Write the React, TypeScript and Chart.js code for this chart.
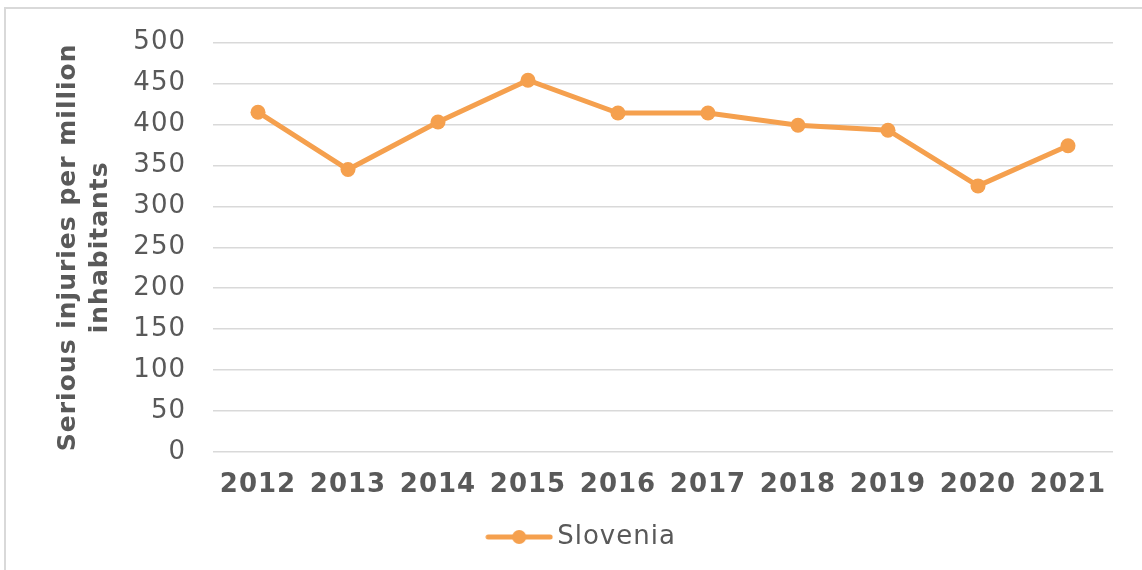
import React, { useEffect, useRef } from "react";
import { Chart, registerables } from "chart.js";

Chart.register(...registerables);

const years = ["2012", "2013", "2014", "2015", "2016", "2017", "2018", "2019", "2020", "2021"];
const slovenia = [415, 345, 403, 454, 414, 414, 399, 393, 325, 374];
const seriesName = "Slovenia";
const yTitle = ["Serious injuries per million", "inhabitants"];
const yMin = 0;
const yMax = 500;
const yStep = 50;

const ORANGE = "#F5A04E";
const TEXT = "#595959";
const GRID = "#D9D9D9";
const FONT = "'DejaVu Sans', Verdana, sans-serif";

function makeLegendImage(): HTMLCanvasElement {
  const c = document.createElement("canvas");
  c.width = 68;
  c.height = 16;
  const ctx = c.getContext("2d")!;
  ctx.strokeStyle = ORANGE;
  ctx.lineWidth = 5;
  ctx.lineCap = "round";
  ctx.beginPath();
  ctx.moveTo(3, 8);
  ctx.lineTo(65, 8);
  ctx.stroke();
  ctx.fillStyle = ORANGE;
  ctx.beginPath();
  ctx.arc(34, 8, 7, 0, Math.PI * 2);
  ctx.fill();
  return c;
}

const spacingPlugin = {
  id: "letterSpacing",
  beforeUpdate(chart: any) {
    chart.ctx.letterSpacing = "1px";
  },
  beforeDraw(chart: any) {
    chart.ctx.letterSpacing = "1px";
  },
};

export default function App() {
  const ref = useRef<HTMLCanvasElement | null>(null);

  useEffect(() => {
    if (!ref.current) return;
    const legendImg = makeLegendImage();
    const chart = new Chart(ref.current, {
      type: "line",
      data: {
        labels: years,
        datasets: [
          {
            label: seriesName,
            data: slovenia,
            borderColor: ORANGE,
            backgroundColor: ORANGE,
            borderWidth: 5,
            pointRadius: 7.5,
            pointHoverRadius: 7.5,
            pointBackgroundColor: ORANGE,
            pointBorderWidth: 0,
            pointStyle: "circle",
            tension: 0,
          },
        ],
      },
      plugins: [spacingPlugin],
      options: {
        animation: false,
        responsive: false,
        maintainAspectRatio: false,
        layout: { padding: { left: 57, right: 29, top: 36, bottom: 10 } },
        plugins: {
          tooltip: { enabled: false },
          legend: {
            position: "bottom",
            labels: {
              usePointStyle: true,
              pointStyleWidth: 50,
              padding: 12,
              color: TEXT,
              font: { family: FONT, size: 26 },
              generateLabels: () => [
                {
                  text: seriesName,
                  fillStyle: ORANGE,
                  strokeStyle: ORANGE,
                  lineWidth: 0,
                  pointStyle: legendImg,
                  hidden: false,
                  datasetIndex: 0,
                  fontColor: TEXT,
                } as any,
              ],
            },
          },
        },
        scales: {
          x: {
            offset: true,
            grid: { display: false, drawTicks: false },
            border: { display: false },
            ticks: {
              color: TEXT,
              padding: 18,
              maxRotation: 0,
              font: { family: FONT, size: 26, weight: "bold" },
            },
            afterFit: (s: any) => {
              s.height = 60;
            },
          },
          y: {
            min: yMin,
            max: yMax,
            grid: { color: GRID, lineWidth: 1.5, drawTicks: false },
            border: { display: false },
            ticks: {
              stepSize: yStep,
              color: TEXT,
              padding: 27,
              font: { family: FONT, size: 26 },
            },
            title: {
              display: true,
              text: yTitle,
              color: TEXT,
              font: { family: FONT, size: 25, weight: "bold", lineHeight: 1.3 },
              padding: { top: -5, bottom: 0 },
            },
            afterFit: (s: any) => {
              s.width = 156;
            },
          },
        },
      },
    });
    return () => chart.destroy();
  }, []);

  return (
    <div style={{ position: "fixed", left: 0, top: 0, width: 1142, height: 570, background: "#fff" }}>
      <div
        style={{
          position: "absolute",
          left: 4,
          top: 7,
          right: 0,
          bottom: 0,
          borderLeft: "2px solid #D9D9D9",
          borderTop: "2px solid #D9D9D9",
          pointerEvents: "none",
        }}
      />
      <canvas ref={ref} width={1142} height={570} style={{ position: "absolute", left: 0, top: 0 }} />
    </div>
  );
}
